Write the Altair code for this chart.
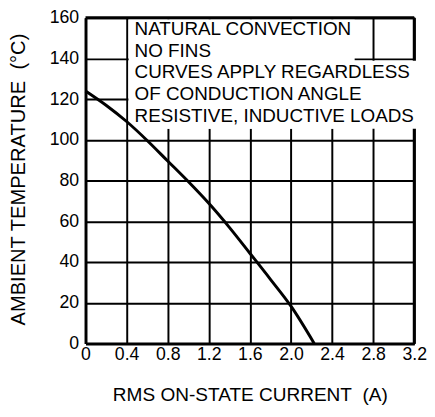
import altair as alt
import pandas as pd

# Curve data (RMS on-state current, ambient temperature)
current = [0.0, 0.2, 0.4, 0.6, 0.8, 1.0, 1.2, 1.4, 1.6, 1.8, 2.0, 2.226]
temperature = [124, 117, 109, 99.7, 89.6, 79.5, 68.8, 57, 44.3, 31.5, 18.3, 0]

x_ticks = [0, 0.4, 0.8, 1.2, 1.6, 2.0, 2.4, 2.8, 3.2]
y_ticks = [0, 20, 40, 60, 80, 100, 120, 140, 160]

note_lines = [
    "NATURAL CONVECTION",
    "NO FINS",
    "CURVES APPLY REGARDLESS",
    "OF CONDUCTION ANGLE",
    "RESISTIVE, INDUCTIVE LOADS",
]

x_title = "RMS ON-STATE CURRENT\u00a0\u00a0(A)"
y_title = "AMBIENT TEMPERATURE\u00a0\u00a0(°C)"

# white mask behind the note (data coordinates)
mask_x = [0.42, 0.42]
mask_x2 = [2.62, 3.25]
mask_y = [105.5, 105.5]
mask_y2 = [159.2, 138.8]

FONT = "Liberation Sans"
W, H = 335, 332

curve_df = pd.DataFrame({"I": current, "T": temperature})
mask_df = pd.DataFrame({"x": mask_x, "x2": mask_x2, "y": mask_y, "y2": mask_y2})
note_df = pd.DataFrame({"t": ["\n".join(note_lines)]})
frame_df = pd.DataFrame({"x": [0.0], "x2": [3.2], "y": [0.0], "y2": [160.0]})

xs = alt.Scale(domain=[0, 3.2], nice=False, zero=False)
ys = alt.Scale(domain=[0, 160], nice=False, zero=False)

label_expr = "format(datum.value, '.1f') == '0.0' ? '0' : format(datum.value, '.1f')"

x_axis = alt.Axis(
    values=x_ticks, labelExpr=label_expr, title=x_title,
    grid=True, gridColor="black", gridWidth=2, gridOpacity=1,
    ticks=False, domain=True, domainColor="black", domainWidth=3,
    labelFont=FONT, labelFontSize=18, labelColor="black", labelPadding=2,
    labelFlush=False, labelOverlap=False,
    titleFont=FONT, titleFontSize=19.4, titleFontWeight="normal", titleColor="black",
    titleX=W / 2, titleY=52, titleBaseline="middle", titleAlign="center",
)
y_axis = alt.Axis(
    values=y_ticks, title=y_title,
    grid=True, gridColor="black", gridWidth=2, gridOpacity=1,
    ticks=False, domain=True, domainColor="black", domainWidth=3,
    labelFont=FONT, labelFontSize=18, labelColor="black", labelPadding=7,
    labelFlush=False, labelOverlap=False,
    titleFont=FONT, titleFontSize=20.5, titleFontWeight="normal", titleColor="black",
    titleX=-68, titleY=H / 2 - 1.5, titleAngle=270, titleBaseline="middle", titleAlign="center",
)

base_grid = alt.Chart(curve_df).mark_point(opacity=0).encode(
    x=alt.X("I:Q", scale=xs, axis=x_axis),
    y=alt.Y("T:Q", scale=ys, axis=y_axis),
)

right_rule = alt.Chart(frame_df).mark_rule(color="black", strokeWidth=3).encode(
    x=alt.X("x2:Q", scale=xs), y=alt.Y("y:Q", scale=ys), y2="y2:Q"
)

mask = alt.Chart(mask_df).mark_rect(color="white", opacity=1).encode(
    x=alt.X("x:Q", scale=xs), x2="x2:Q", y=alt.Y("y:Q", scale=ys), y2="y2:Q"
)

top_rule = alt.Chart(frame_df).mark_rule(color="black", strokeWidth=3).encode(
    x=alt.X("x:Q", scale=xs), x2="x2:Q", y=alt.Y("y2:Q", scale=ys)
)

note = alt.Chart(note_df).mark_text(
    align="left", baseline="top", font=FONT, fontSize=19.2, color="black",
    lineBreak="\n", lineHeight=22.3,
).encode(x=alt.value(50), y=alt.value(2.3), text="t:N")

curve = alt.Chart(curve_df).mark_line(color="black", strokeWidth=3, interpolate="monotone").encode(
    x=alt.X("I:Q", scale=xs), y=alt.Y("T:Q", scale=ys)
)

chart = alt.layer(base_grid, right_rule, mask, top_rule, note, curve).properties(
    width=W, height=H,
    autosize=alt.AutoSizeParams(type="none"),
    padding={"left": 79, "top": 6, "right": 13, "bottom": 65},
).configure_view(stroke=None).configure(background="white")

chart.save("out.html", embed_options={"renderer": "svg", "actions": False})
